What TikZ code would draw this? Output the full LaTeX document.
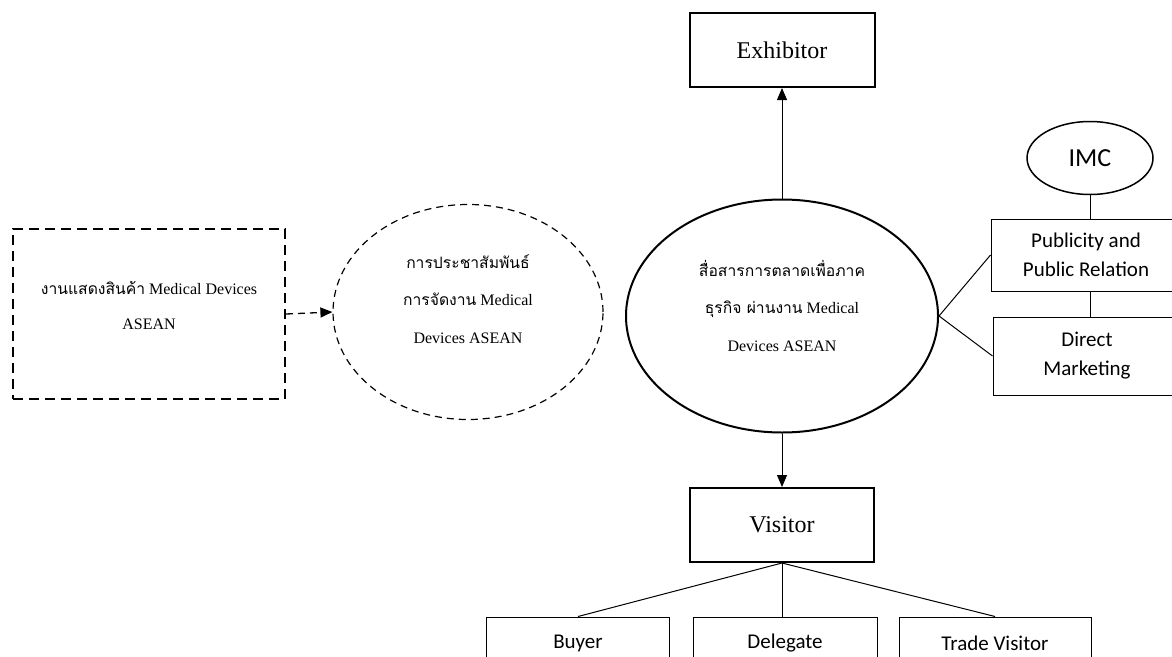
\documentclass[tikz,border=0pt]{standalone}
\usepackage{fontspec}
\setmainfont{Liberation Serif}
\newfontfamily\thai[Script=Thai,Scale=0.98]{Loma}
\newfontfamily\calfont{Carlito}
\usetikzlibrary{shapes.geometric,arrows.meta}
\begin{document}
\begin{tikzpicture}[x=1pt,y=-1pt,
  mainbox/.style={draw,rectangle,line width=2pt,inner sep=0pt,font=\fontsize{24}{28}\selectfont},
  subbox/.style={draw,rectangle,line width=1pt,inner sep=0pt,align=center,font=\calfont\fontsize{21}{29}\selectfont},
  thaitext/.style={align=center,font=\fontsize{16}{37.5}\selectfont},
  conn/.style={line width=1pt},
  tip/.style={-{Triangle[length=12pt,width=10pt]}},
]
\useasboundingbox (0,0) rectangle (1172,656);

% main column
\node[mainbox,minimum width=185pt,minimum height=74pt] (exh) at (782,50) {\raisebox{-4pt}{Exhibitor}};
\node[draw,ellipse,line width=2pt,minimum width=312pt,minimum height=233pt,inner sep=0pt] (main) at (782,316) {};
\node[thaitext] (maintext) at (782,306)
  {{\thai สื่อสารการตลาดเพื่อภาค}\\{\thai ธุรกิจ ผ่านงาน} Medical\\Devices ASEAN};
\node[mainbox,minimum width=184pt,minimum height=74pt] (vis) at (782,525) {\raisebox{-2pt}{Visitor}};

% left side
\node[draw,rectangle,line width=2pt,dash pattern=on 10pt off 6pt,minimum width=272pt,minimum height=170pt,inner sep=0pt] (show) at (149,314) {};
\node[align=center,font=\fontsize{16}{35}\selectfont] (showtext) at (149,306) {{\thai งานแสดงสินค้า} Medical Devices\\ASEAN};
\node[draw,ellipse,line width=1.2pt,dash pattern=on 7pt off 5pt,minimum width=270pt,minimum height=215pt,inner sep=0pt] (pr) at (468,312) {};
\node[thaitext] (prtext) at (468,299)
  {{\thai การประชาสัมพันธ์}\\{\thai การจัดงาน} Medical\\Devices ASEAN};

% IMC side
\node[draw,ellipse,line width=1.5pt,minimum width=126pt,minimum height=73pt,inner sep=0pt,font=\calfont\fontsize{26}{30}\selectfont] (imc) at (1090,158) {IMC};
\node[subbox,minimum width=190pt,minimum height=72pt] (pub) at (1086,255) {Publicity and\\Public Relation};
\node[subbox,minimum width=188pt,minimum height=78pt] (dm) at (1087,356) {Direct\\Marketing};

% visitor types
\node[subbox,minimum width=183pt,minimum height=52pt] (buyer) at (578,643) {Buyer};
\node[subbox,minimum width=184pt,minimum height=52pt] (dele) at (785,643) {Delegate};
\node[subbox,minimum width=192pt,minimum height=52pt] (trade) at (995,643) {Trade Visitor};

% connectors
\draw[conn,tip] (main.north) -- (exh.south);
\draw[conn,tip] (main.south) -- (vis.south |- vis.north);
\draw[line width=1.3pt,dash pattern=on 7pt off 5pt,tip] (show.east) -- (pr.west);
\draw[conn] (main.east) -- (pub.west);
\draw[conn] (main.east) -- (dm.west);
\draw[conn] (imc.south) -- (imc.south |- pub.north);
\draw[conn] (imc.south |- pub.south) -- (imc.south |- dm.north);
\draw[conn] (vis.south) -- (buyer.north);
\draw[conn] (vis.south) -- (vis.south |- dele.north);
\draw[conn] (vis.south) -- (trade.north);
\end{tikzpicture}
\end{document}
